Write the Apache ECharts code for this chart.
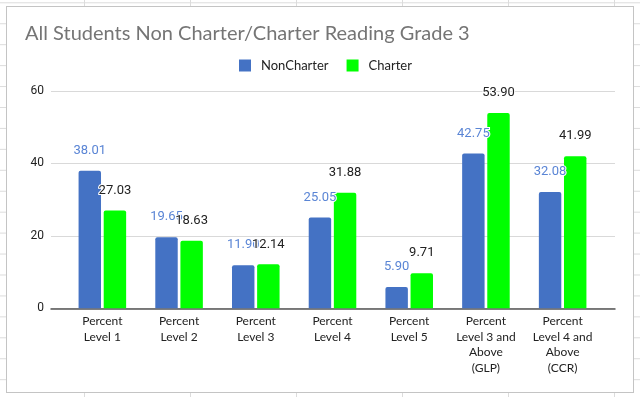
<!DOCTYPE html>
<html><head><meta charset="utf-8">
<script src="https://cdn.jsdelivr.net/npm/echarts@6/dist/echarts.min.js"></script>
<style>
html,body{margin:0;padding:0;width:640px;height:397px;overflow:hidden;}
body{background-color:#fff;
background-image:
 linear-gradient(to bottom, #dcdcdc 1px, transparent 1px),
 linear-gradient(to right, #dcdcdc 1px, transparent 1px);
background-size:640px 20.95px, 106px 397px;
background-position:0 2.3px, -22px 0;}
#box{position:absolute;left:6px;top:6px;width:626px;height:385px;background:#fff;border:1px solid #c4c4c4;}
#chart{position:absolute;left:0;top:0;width:640px;height:397px;}
</style></head>
<body>
<div id="box"></div>
<div id="chart"></div>
<script>
const categories = [
  'Percent\nLevel 1',
  'Percent\nLevel 2',
  'Percent\nLevel 3',
  'Percent\nLevel 4',
  'Percent\nLevel 5',
  'Percent\nLevel 3 and\nAbove\n(GLP)',
  'Percent\nLevel 4 and\nAbove\n(CCR)'
];
const nonCharter = [38.01, 19.65, 11.90, 25.05, 5.90, 42.75, 32.08];
const charter = [27.03, 18.63, 12.14, 31.88, 9.71, 53.90, 41.99];
const seriesNames = ['NonCharter', 'Charter'];
const yTicks = {min: 0, max: 60, interval: 20};

const chart = echarts.init(document.getElementById('chart'), null, {renderer: 'canvas'});
const labelCommon = {
  show: true, position: 'top', distance: 13, fontFamily: 'Roboto', fontSize: 13, lineHeight: 14,
  textBorderColor: '#fff', textBorderWidth: 2,
  formatter: p => p.value.toFixed(2)
};
chart.setOption({
  backgroundColor: 'transparent',
  animation: false,
  title: {
    text: 'All Students Non Charter/Charter Reading Grade 3',
    left: 25, top: 24, padding: 0,
    textStyle: {fontFamily: 'Lato', fontSize: 20, fontWeight: 'normal', color: '#757575'}
  },
  legend: {
    data: seriesNames, left: 239, top: 59, padding: 0, itemWidth: 12, itemHeight: 12, itemGap: 18,
    icon: 'rect',
    textStyle: {fontFamily: 'Lato', fontSize: 13, color: '#222', padding: [0, 0, 0, 5], lineHeight: 12}
  },
  grid: [
    {left: 51, right: 25, top: 91, height: 217.3},
    {left: 64, right: 39, top: 91, height: 217.3}
  ],
  xAxis: [
    {gridIndex: 0, type: 'value', min: 0, max: 1, show: true,
     axisLine: {show: true, onZero: false, lineStyle: {color: '#555', width: 1.5}},
     axisTick: {show: false}, axisLabel: {show: false}, splitLine: {show: false}},
    {gridIndex: 1, type: 'category', data: categories,
     axisLine: {show: false}, axisTick: {show: false},
     axisLabel: {margin: 5, fontFamily: 'Lato', fontSize: 12, lineHeight: 15.6, color: '#222', interval: 0}}
  ],
  yAxis: [
    {gridIndex: 0, type: 'value', min: yTicks.min, max: yTicks.max, interval: yTicks.interval,
     axisLine: {show: false}, axisTick: {show: false},
     axisLabel: {margin: 7, fontFamily: 'Roboto', fontSize: 12, color: '#222'},
     splitLine: {lineStyle: {color: '#d9d9d9', width: 1}}},
    {gridIndex: 1, type: 'value', min: yTicks.min, max: yTicks.max, interval: yTicks.interval,
     show: false, splitLine: {show: false}}
  ],
  series: [
    {name: seriesNames[0], type: 'bar', xAxisIndex: 1, yAxisIndex: 1, data: nonCharter,
     barCategoryGap: '38%', barGap: '12%',
     itemStyle: {color: '#4472C4', borderRadius: [2, 2, 0, 0]},
     label: Object.assign({}, labelCommon, {color: '#5a85d5'})},
    {name: seriesNames[1], type: 'bar', xAxisIndex: 1, yAxisIndex: 1, data: charter,
     barCategoryGap: '38%', barGap: '12%',
     itemStyle: {color: '#00FF00', borderRadius: [2, 2, 0, 0]},
     label: Object.assign({}, labelCommon, {color: '#222'})}
  ]
});
</script>
</body></html>
